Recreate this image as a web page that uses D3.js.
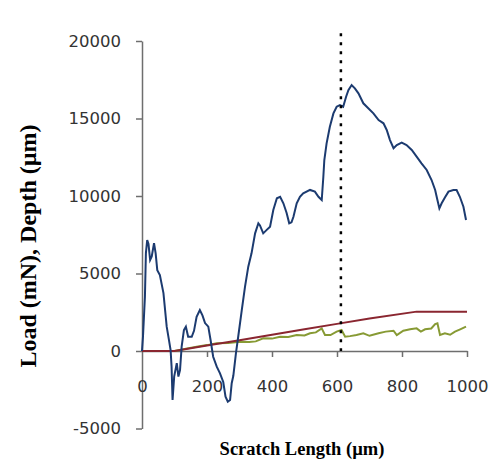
<!DOCTYPE html>
<html>
<head>
<meta charset="utf-8">
<script src="https://cdn.jsdelivr.net/npm/d3@7"></script>
<style>
  body { margin: 0; background: #fff; }
  svg { display: block; }
</style>
</head>
<body>
<script>
// scratch length (µm) / value pairs
const depthX = [0, 3, 9, 12, 16, 20, 25, 30, 37, 42, 47, 55, 66, 76, 83, 88, 91, 94, 99, 107, 112, 117, 122, 129, 135, 142, 153, 160, 168, 178, 186, 194, 204, 211, 219, 230, 240, 250, 257, 264, 271, 276, 281, 289, 296, 307, 317, 327, 337, 348, 358, 363, 373, 383, 394, 404, 415, 425, 435, 445, 453, 460, 466, 476, 486, 496, 517, 532, 543, 553, 558, 561, 568, 578, 589, 599, 609, 619, 628, 635, 645, 655, 666, 681, 697, 712, 728, 743, 753, 763, 774, 784, 799, 814, 830, 845, 860, 876, 891, 902, 909, 915, 922, 932, 943, 958, 968, 978, 989, 997];
const depthY = [0, 920, 3500, 6320, 7160, 6900, 5870, 6100, 6960, 6300, 5220, 4900, 3740, 1570, 700, 60, -1010, -3160, -1650, -780, -1650, -1230, 280, 1350, 1570, 920, 920, 1300, 2210, 2640, 2300, 1800, 1570, 710, -370, -1010, -1440, -2000, -2950, -3270, -3160, -2080, -1600, -150, 920, 2640, 4150, 5440, 6300, 7590, 8240, 8100, 7590, 7800, 8020, 9100, 9850, 9950, 9530, 8900, 8240, 8300, 8660, 9530, 9950, 10170, 10390, 10280, 9950, 9740, 11240, 12320, 13400, 14470, 15330, 15760, 15870, 15760, 16400, 16830, 17160, 16940, 16620, 15980, 15650, 15330, 14900, 14690, 14260, 13610, 13080, 13290, 13440, 13290, 12970, 12540, 12110, 11680, 11030, 10390, 9740, 9200, 9530, 9900, 10280, 10390, 10390, 9950, 9310, 8450];

const loadX = [0, 100, 200, 300, 400, 500, 600, 700, 845, 1000];
const loadY = [0, 0, 350, 700, 1050, 1400, 1750, 2100, 2540, 2540];

const greenX = [0, 100, 135, 168, 200, 230, 265, 302, 330, 350, 373, 400, 425, 450, 476, 500, 517, 535, 553, 563, 580, 599, 614, 625, 640, 660, 681, 700, 728, 750, 774, 784, 804, 825, 845, 858, 871, 890, 902, 909, 917, 932, 948, 963, 979, 997];
const greenY = [0, 0, 150, 280, 380, 500, 520, 600, 580, 620, 820, 800, 920, 900, 1030, 1000, 1140, 1200, 1460, 1030, 1030, 1250, 1350, 920, 960, 1030, 1140, 980, 1140, 1250, 1310, 1030, 1310, 1400, 1460, 1250, 1400, 1450, 1740, 1790, 1030, 1140, 1050, 1250, 1400, 1570];

const markerX = 612;
const yTicks = [-5000, 0, 5000, 10000, 15000, 20000];
const xTicks = [0, 200, 400, 600, 800, 1000];

const width = 499;
const height = 467;

const svg = d3.select('body')
  .append('svg')
  .attr('width', width)
  .attr('height', height);

const x = d3.scaleLinear().domain([0, 1000]).range([142, 467]);
const y = d3.scaleLinear().domain([-5000, 20000]).range([428.5, 41]);

const fmt = d => String(d);

// y axis
const yAxis = svg.append('g')
  .attr('transform', `translate(${x(0)},0)`)
  .call(d3.axisLeft(y).tickValues(yTicks).tickSize(6).tickSizeOuter(0).tickPadding(15).tickFormat(fmt));
yAxis.select('.domain').attr('stroke', '#6e6e6e').attr('stroke-width', 1.5);
yAxis.selectAll('.tick line').attr('stroke', '#6e6e6e').attr('stroke-width', 1.5);
yAxis.selectAll('.tick text')
  .attr('fill', '#333')
  .style('font-family', '"DejaVu Sans", Verdana, sans-serif')
  .style('font-size', '16.5px');

// x axis at zero line
const xAxis = svg.append('g')
  .attr('transform', `translate(0,${y(0)})`)
  .call(d3.axisBottom(x).tickValues(xTicks).tickSize(6).tickSizeOuter(0).tickPadding(23).tickFormat(fmt));
xAxis.select('.domain').attr('stroke', '#6e6e6e').attr('stroke-width', 1.5);
xAxis.selectAll('.tick line').attr('stroke', '#6e6e6e').attr('stroke-width', 1.5)
  .filter(d => d === 0).remove();
xAxis.selectAll('.tick text')
  .attr('fill', '#333')
  .style('font-family', '"DejaVu Sans", Verdana, sans-serif')
  .style('font-size', '16.5px');

const line = d3.line()
  .x(d => x(d[0]))
  .y(d => y(d[1]));

svg.append('path')
  .datum(greenX.map((v, i) => [v, greenY[i]]))
  .attr('d', line)
  .attr('fill', 'none')
  .attr('stroke', '#879a34')
  .attr('stroke-width', 2);

svg.append('path')
  .datum(loadX.map((v, i) => [v, loadY[i]]))
  .attr('d', line)
  .attr('fill', 'none')
  .attr('stroke', '#8a2630')
  .attr('stroke-width', 2);

svg.append('path')
  .datum(depthX.map((v, i) => [v, depthY[i]]))
  .attr('d', line)
  .attr('fill', 'none')
  .attr('stroke', '#1c3b70')
  .attr('stroke-width', 2);

// dotted marker
svg.append('line')
  .attr('x1', x(markerX)).attr('x2', x(markerX))
  .attr('y1', y(20500)).attr('y2', y(0))
  .attr('stroke', '#000')
  .attr('stroke-width', 2.5)
  .attr('stroke-dasharray', '3,6');

// axis titles
svg.append('text')
  .attr('x', 302)
  .attr('y', 455)
  .attr('text-anchor', 'middle')
  .style('font-family', '"Liberation Serif", "Times New Roman", serif')
  .style('font-weight', 'bold')
  .style('font-size', '18.5px')
  .text('Scratch Length (µm)');

svg.append('text')
  .attr('transform', 'translate(36,246) rotate(-90)')
  .attr('text-anchor', 'middle')
  .style('font-family', '"Liberation Serif", "Times New Roman", serif')
  .style('font-weight', 'bold')
  .style('font-size', '24px')
  .text('Load (mN), Depth (µm)');
</script>
</body>
</html>
